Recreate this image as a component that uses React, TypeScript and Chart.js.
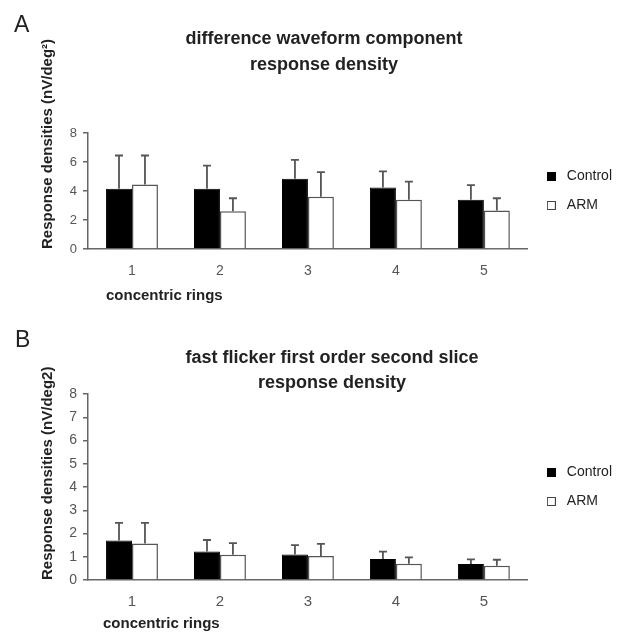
import React, { useEffect, useRef } from 'react';
import { Chart, registerables } from 'chart.js';

Chart.register(...registerables);

// ---------- data ----------
const categories = ['1', '2', '3', '4', '5'];
const seriesNames = ['Control', 'ARM'];

const controlA = [4.15, 4.15, 4.85, 4.25, 3.4];
const controlErrA = [2.3, 1.6, 1.3, 1.1, 1.0];
const armA = [4.45, 2.6, 3.6, 3.4, 2.65];
const armErrA = [2.0, 0.9, 1.7, 1.25, 0.85];

const controlB = [1.7, 1.23, 1.1, 0.9, 0.69];
const controlErrB = [0.76, 0.49, 0.4, 0.32, 0.2];
const armB = [1.57, 1.09, 1.03, 0.7, 0.61];
const armErrB = [0.89, 0.5, 0.52, 0.27, 0.26];

const yTicksA = [0, 2, 4, 6, 8];
const yTicksB = [0, 1, 2, 3, 4, 5, 6, 7, 8];

const titleA = ['difference waveform component', 'response density'];
const titleB = ['fast flicker first order second slice', 'response density'];
const yTitleA = 'Response densities (nV/deg²)';
const yTitleB = 'Response densities (nV/deg2)';
const xTitle = 'concentric rings';
const letterA = 'A';
const letterB = 'B';

const FONT = '"Liberation Sans", Arial, Helvetica, sans-serif';
Chart.defaults.font.family = FONT;

// ---------- plugins ----------
const errorBarPlugin = {
  id: 'errorBars',
  afterDatasetsDraw(chart: any, _args: any, opts: any) {
    const ctx = chart.ctx;
    const yScale = chart.scales.y;
    chart.data.datasets.forEach((ds: any, i: number) => {
      const meta = chart.getDatasetMeta(i);
      meta.data.forEach((bar: any, j: number) => {
        const v = ds.data[j];
        const e = ds.errors[j];
        const yTop = yScale.getPixelForValue(v + e);
        ctx.save();
        ctx.strokeStyle = opts.color;
        ctx.lineWidth = opts.width;
        ctx.beginPath();
        ctx.moveTo(bar.x, bar.y);
        ctx.lineTo(bar.x, yTop);
        ctx.moveTo(bar.x - opts.cap / 2, yTop);
        ctx.lineTo(bar.x + opts.cap / 2, yTop);
        ctx.stroke();
        ctx.restore();
      });
    });
  },
};

const panelTextPlugin = {
  id: 'panelText',
  afterDraw(chart: any, _args: any, o: any) {
    const ctx = chart.ctx;
    ctx.save();
    ctx.fillStyle = '#222';
    ctx.textBaseline = 'alphabetic';
    ctx.textAlign = 'left';
    ctx.font = `23px ${FONT}`;
    ctx.fillText(o.letter, o.letterX, o.letterY);
    ctx.font = `bold 18px ${FONT}`;
    ctx.textAlign = 'center';
    o.title.forEach((t: string, k: number) => ctx.fillText(t, o.titleX, o.titleY[k]));
    ctx.textAlign = 'left';
    ctx.font = `bold 15px ${FONT}`;
    ctx.fillText(o.xTitle, o.xTitleX, o.xTitleY);
    ctx.restore();
  },
};

function makeSquare(fill: string, stroke: string) {
  const c = document.createElement('canvas');
  c.width = 9;
  c.height = 9;
  const g = c.getContext('2d')!;
  g.fillStyle = fill;
  g.fillRect(0, 0, 9, 9);
  g.strokeStyle = stroke;
  g.lineWidth = 1;
  g.strokeRect(0.5, 0.5, 8, 8);
  return c;
}

type PanelProps = {
  top: number;
  height: number;
  control: number[];
  controlErr: number[];
  arm: number[];
  armErr: number[];
  yTicks: number[];
  title: string[];
  yTitle: string;
  letter: string;
  layout: any;
};

function Panel(p: PanelProps) {
  const ref = useRef<HTMLCanvasElement>(null);
  useEffect(() => {
    const L = p.layout;
    const squares = [makeSquare('#000', '#000'), makeSquare('#fff', '#444')];
    const chart = new Chart(ref.current!, {
      type: 'bar',
      data: {
        labels: categories,
        datasets: [
          {
            label: seriesNames[0],
            data: p.control,
            errors: p.controlErr,
            backgroundColor: '#000',
            borderColor: '#000',
            borderWidth: 1,
            categoryPercentage: 0.59,
            barPercentage: 1,
          } as any,
          {
            label: seriesNames[1],
            data: p.arm,
            errors: p.armErr,
            backgroundColor: '#fff',
            borderColor: '#555',
            borderWidth: 1.5,
            categoryPercentage: 0.59,
            barPercentage: 1,
          } as any,
        ],
      },
      options: {
        responsive: false,
        animation: false,
        devicePixelRatio: 1,
        layout: { padding: { top: L.chartTop, right: L.padRight, bottom: 0, left: 0 } },
        scales: {
          x: {
            grid: { display: false, drawTicks: false },
            border: { display: true, color: '#666', width: 1.5 },
            ticks: { color: '#555', font: { size: L.xTickSize }, padding: L.xTickPad },
            afterFit: (s: any) => {
              s.height = L.xAxisHeight;
            },
          },
          y: {
            min: p.yTicks[0],
            max: p.yTicks[p.yTicks.length - 1],
            afterBuildTicks: (s: any) => {
              s.ticks = p.yTicks.map((v) => ({ value: v }));
            },
            grid: { drawOnChartArea: false, drawTicks: true, tickLength: 5, color: '#666', lineWidth: 1.5 },
            border: { display: true, color: '#666', width: 1.5 },
            ticks: { color: '#555', font: { size: L.yTickSize }, padding: 6 },
            title: {
              display: true,
              text: p.yTitle,
              color: '#222',
              font: { size: 15, weight: 'bold' },
              align: 'start',
              padding: { top: 38.5, bottom: 0 },
            },
            afterFit: (s: any) => {
              s.width = 88;
            },
          },
        },
        plugins: {
          legend: {
            position: 'right',
            fullSize: false,
            labels: {
              color: '#222',
              font: { size: 14 },
              padding: 15,
              usePointStyle: true,
              pointStyleWidth: 17,
              generateLabels: (chart: any) =>
                (Chart.defaults.plugins.legend.labels as any)
                  .generateLabels(chart)
                  .map((l: any, i: number) => ({ ...l, pointStyle: squares[i] })),
            },
          },
          title: { display: false },
          tooltip: { enabled: false },
          errorBars: { color: '#555', width: 1.8, cap: 8 },
          panelText: {
            letter: p.letter,
            letterX: L.letterX,
            letterY: L.letterY,
            title: p.title,
            titleX: L.titleX,
            titleY: L.titleY,
            xTitle: xTitle,
            xTitleX: L.xTitleX,
            xTitleY: L.xTitleY,
          },
        } as any,
      },
      plugins: [errorBarPlugin, panelTextPlugin],
    } as any);
    return () => chart.destroy();
  }, []);
  return (
    <canvas
      ref={ref}
      width={627}
      height={p.height}
      style={{ position: 'absolute', left: 0, top: p.top, width: 627, height: p.height, display: 'block' }}
    />
  );
}

export default function App() {
  return (
    <div style={{ position: 'absolute', left: 0, top: 0, width: 627, height: 633, background: '#fff' }}>
      <Panel
        top={0}
        height={316}
        control={controlA}
        controlErr={controlErrA}
        arm={armA}
        armErr={armErrA}
        yTicks={yTicksA}
        title={titleA}
        yTitle={yTitleA}
        letter={letterA}
        layout={{
          chartTop: 133,
          padRight: 5,
          xAxisHeight: 67,
          xTickSize: 14,
          xTickPad: 14,
          yTickSize: 13,
          letterX: 14,
          letterY: 31.5,
          titleX: 324,
          titleY: [44, 70],
          xTitleX: 106,
          xTitleY: 300,
        }}
      />
      <Panel
        top={316}
        height={317}
        control={controlB}
        controlErr={controlErrB}
        arm={armB}
        armErr={armErrB}
        yTicks={yTicksB}
        title={titleB}
        yTitle={yTitleB}
        letter={letterB}
        layout={{
          chartTop: 78,
          padRight: 5,
          xAxisHeight: 53,
          xTickSize: 15,
          xTickPad: 13,
          yTickSize: 14,
          letterX: 15,
          letterY: 31,
          titleX: 332,
          titleY: [47, 72],
          xTitleX: 103,
          xTitleY: 312,
        }}
      />
    </div>
  );
}
